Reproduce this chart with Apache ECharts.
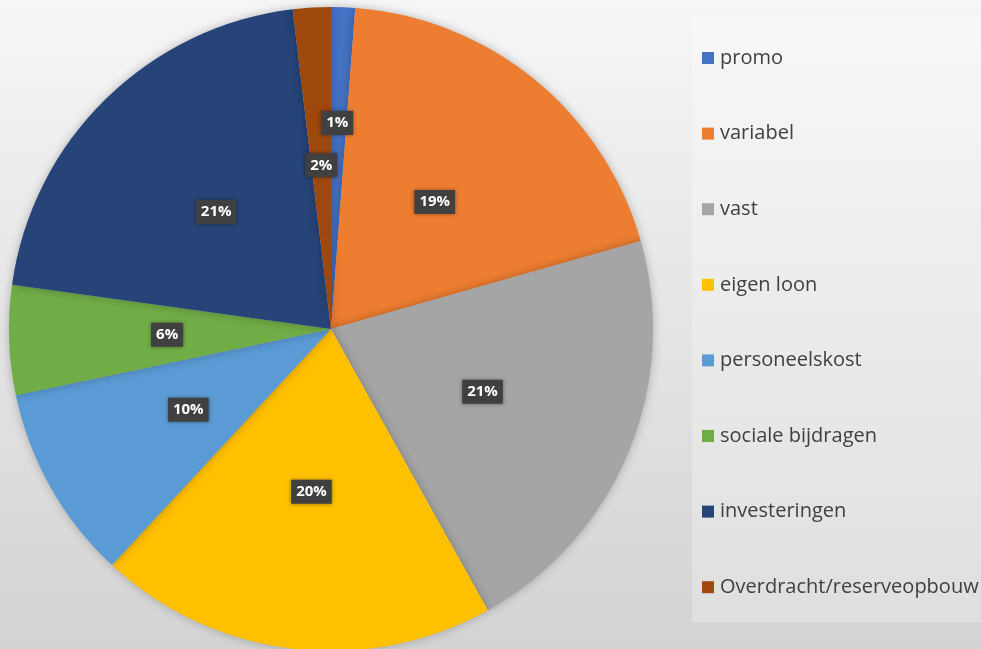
<!DOCTYPE html>
<html>
<head>
<meta charset="utf-8">
<script src="https://cdn.jsdelivr.net/npm/echarts@6/dist/echarts.min.js"></script>
<style>
  html, body { margin: 0; padding: 0; }
  #chart { width: 981px; height: 649px; }
</style>
</head>
<body>
<div id="chart"></div>
<script>
// categories and values (percent of total)
const categories = ["promo", "variabel", "vast", "eigen loon", "personeelskost",
  "sociale bijdragen", "investeringen", "Overdracht/reserveopbouw"];
const values = [1.2, 19.4, 21.3, 20.0, 9.8, 5.5, 20.9, 1.9];
const colors = ["#4472C4", "#ED7D31", "#A5A5A5", "#FFC000", "#5B9BD5",
  "#70AD47", "#264478", "#9E480E"];

const chart = echarts.init(document.getElementById("chart"));

const pieData = categories.map((name, i) => ({
  name: name,
  value: values[i],
  itemStyle: { color: colors[i] },
}));

chart.setOption({
  animation: false,
  backgroundColor: {
    type: "linear", x: 0, y: 0, x2: 0, y2: 1,
    colorStops: [
      { offset: 0, color: "#f6f6f6" },
      { offset: 1, color: "#d3d3d3" },
    ],
  },
  graphic: [
    {
      type: "rect",
      shape: { x: 692, y: 16, width: 300, height: 606 },
      style: { fill: "rgba(255,255,255,0.25)" },
      z: -1,
    },
  ],
  legend: {
    orient: "vertical",
    left: 702,
    top: 47,
    icon: "rect",
    itemWidth: 12,
    itemHeight: 12,
    itemGap: 53.6,
    padding: 0,
    textStyle: {
      fontFamily: "Open Sans",
      fontSize: 20,
      color: "#404040",
      lineHeight: 22,
      padding: [0, 0, 0, 1],
    },
    data: categories,
  },
  series: [
    {
      type: "pie",
      center: [331, 329],
      radius: [0, 322],
      startAngle: 90,
      clockwise: true,
      data: pieData,
      itemStyle: {
        shadowBlur: 10,
        shadowColor: "rgba(0,0,0,0.25)",
      },
      label: {
        position: "inside",
        formatter: (p) => Math.round(p.percent) + "%",
        color: "#ffffff",
        fontFamily: "Open Sans",
        fontWeight: "bold",
        fontSize: 15,
        backgroundColor: "#404040",
        padding: [5, 5, 4, 5],
        shadowBlur: 4,
        shadowColor: "rgba(0,0,0,0.4)",
      },
      labelLine: { show: false },
      labelLayout: (params) => {
        // small promo slice: its label is pushed outward like in the original
        if (params.dataIndex === 0) {
          return { dy: -42 };
        }
        return {};
      },
      emphasis: { disabled: true },
    },
  ],
});
</script>
</body>
</html>
